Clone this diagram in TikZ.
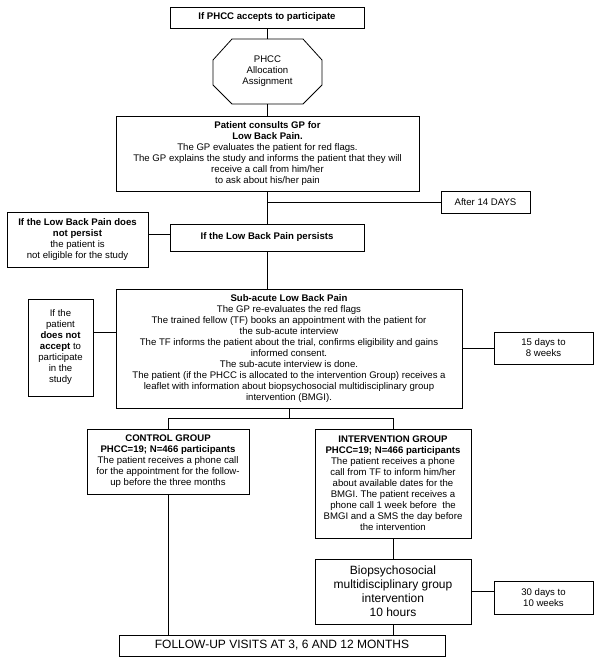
\documentclass[tikz,border=0pt]{standalone}
\usepackage{fontspec}
\setmainfont{Liberation Sans}
\begin{document}
\begin{tikzpicture}[x=0.75pt,y=-0.75pt,
  every node/.style={inner sep=0pt, align=center, font=\fontsize{7.2}{8.25}\selectfont},
  bx/.style={draw, line width=0.6pt},
  big/.style={font=\fontsize{9}{10.5}\selectfont},
  conn/.style={draw, line width=0.6pt}]
\useasboundingbox[fill=white] (0,0) rectangle (600,664);

\node[bx, minimum width=145.5pt, minimum height=15.75pt] (acc) at (267,17.5) {\textbf{If PHCC accepts to participate}};
\node[minimum width=81.75pt, minimum height=48.75pt] (oct) at (267.5,71.5) {PHCC\\Allocation\\Assignment};
\draw[line width=0.6pt] (232,39) -- (303,39) -- (322,60) -- (322,85) -- (303,104) -- (232,104) -- (213,85) -- (213,60) -- cycle;
\node[bx, minimum width=227.25pt, minimum height=56.25pt] (pat) at (267.5,153.5) {\textbf{Patient consults GP for}\\\textbf{Low Back Pain.}\\The GP evaluates the patient for red flags.\\The GP explains the study and informs the patient that they will\\receive a call from him/her\\to ask about his/her pain};
\node[bx, minimum width=66.75pt, minimum height=16.5pt] (d14) at (485.5,202) {After 14 DAYS};
\node[bx, minimum width=105.75pt, minimum height=41.25pt] (np) at (77.5,239.5) {\textbf{If the Low Back Pain does}\\\textbf{not persist}\\the patient is\\not eligible for the study};
\node[bx, minimum width=145.5pt, minimum height=20.25pt] (per) at (267,237.5) {\textbf{If the Low Back Pain persists}};
\node[bx, minimum width=259.5pt, minimum height=89.25pt] (sub) at (289,348.5) {\textbf{Sub-acute Low Back Pain}\\The GP re-evaluates the red flags\\The trained fellow (TF) books an appointment with the patient for\\the sub-acute interview\\The TF informs the patient about the trial, confirms eligibility and gains\\informed consent.\\The sub-acute interview is done.\\The patient (if the PHCC is allocated to the intervention Group) receives a\\leaflet with information about biopsychosocial multidisciplinary group\\intervention (BMGI).};
\node[bx, minimum width=48.75pt, minimum height=72.75pt] (na) at (60.5,347.5) {If the\\patient\\\textbf{does not}\\\textbf{accept} to\\participate\\in the\\study};
\node[bx, minimum width=74.25pt, minimum height=24pt] (w8) at (543.5,348) {15 days to\\8 weeks};
\node[bx, minimum width=121.5pt, minimum height=48.75pt] (ctl) at (168,461.5) {\textbf{CONTROL GROUP}\\\textbf{PHCC=19; N=466 participants}\\The patient receives a phone call\\for the appointment for the follow-\\up before the three months};
\node[bx, minimum width=117pt, minimum height=81.75pt] (int) at (393,483.5) {\textbf{INTERVENTION GROUP}\\\textbf{PHCC=19; N=466 participants}\\The patient receives a phone\\call from TF to inform him/her\\about available dates for the\\BMGI. The patient receives a\\phone call 1 week before\ \ the\\BMGI and a SMS the day before\\the intervention};
\node[bx, big, minimum width=117pt, minimum height=48.75pt] (bio) at (393,591.5) {Biopsychosocial\\multidisciplinary group\\intervention\\10 hours};
\node[bx, minimum width=74.25pt, minimum height=24.75pt] (w10) at (543.5,597.5) {30 days to\\10 weeks};
\node[bx, big, minimum width=244.5pt, minimum height=15.75pt] (fu) at (282,645.5) {FOLLOW-UP VISITS AT 3, 6 AND 12 MONTHS};

\coordinate (br) at (289,418);

\draw[conn] (acc.south) -- (acc.south |- oct.north);
\draw[conn] (oct.south) -- (oct.south |- pat.north);
\draw[conn] (pat.south) -- (pat.south |- per.north);
\draw[conn] (pat.south |- d14.west) -- (d14.west);
\draw[conn] ([yshift=2.6pt]per.west) -- ([yshift=2.6pt]per.west -| np.east);
\draw[conn] (per.south) -- (per.south |- sub.north);
\draw[conn] ([yshift=11.6pt]na.east) -- ([yshift=11.6pt]na.east -| sub.west);
\draw[conn] (sub.east) -- (sub.east -| w8.west);
\draw[conn] (sub.south) -- (br);
\draw[conn] (ctl.north) -- (ctl.north |- br) -- (int.north |- br) -- (int.north);
\draw[conn] (int.south) -- (bio.north);
\draw[conn] (bio.east) -- (bio.east -| w10.west);
\draw[conn] (ctl.south) -- (ctl.south |- fu.north);
\draw[conn] (bio.south) -- (bio.south |- fu.north);
\end{tikzpicture}
\end{document}
